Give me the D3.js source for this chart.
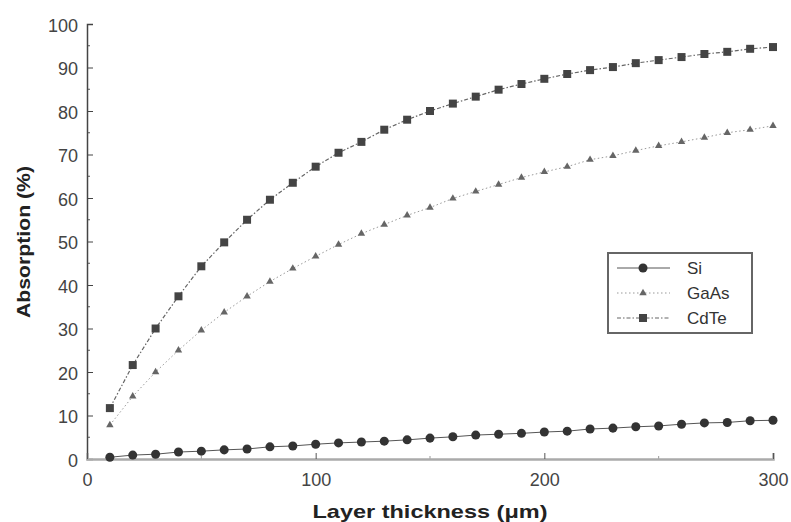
<!DOCTYPE html>
<html><head><meta charset="utf-8">
<script src="https://cdn.jsdelivr.net/npm/d3@7"></script>
<style>body{margin:0;background:#fff}svg{display:block}text{font-family:Arial,"Liberation Sans",sans-serif}</style>
</head><body>
<script>
const thickness = [10,20,30,40,50,60,70,80,90,100,110,120,130,140,150,160,170,180,190,200,210,220,230,240,250,260,270,280,290,300];
const si   = [0.4,0.9,1.1,1.6,1.8,2.1,2.3,2.8,3.0,3.4,3.7,3.9,4.1,4.4,4.8,5.1,5.5,5.7,5.9,6.2,6.4,6.9,7.1,7.4,7.6,8.0,8.3,8.4,8.8,8.9];
const gaas = [7.8,14.4,20.0,25.0,29.6,33.7,37.4,40.8,43.8,46.6,49.3,51.8,53.9,56.0,57.8,59.9,61.5,63.1,64.7,66.0,67.2,68.8,69.7,70.9,72.0,72.9,73.9,75.0,75.7,76.6];
const cdte = [11.7,21.6,30.0,37.4,44.3,49.8,55.0,59.6,63.5,67.2,70.4,72.9,75.7,78.0,80.0,81.7,83.3,84.9,86.2,87.4,88.5,89.4,90.1,91.0,91.7,92.4,93.1,93.6,94.3,94.7];
const seriesNames = ["Si","GaAs","CdTe"];
const xTicks = [0,100,200,300];
const yTicks = [0,10,20,30,40,50,60,70,80,90,100];

const W=791,H=522;
const FONT="Arial, 'Liberation Sans', sans-serif";
const svg=d3.select("body").append("svg").attr("width",W).attr("height",H);
const x=d3.scaleLinear().domain([0,300]).range([87,773]);
const y=d3.scaleLinear().domain([0,100]).range([459,24]);

// minor ticks
const g=svg.append("g");
g.selectAll(".ym").data(d3.range(5,100,10)).enter().append("line")
 .attr("x1",x(0)).attr("x2",x(0)+3).attr("y1",d=>y(d)).attr("y2",d=>y(d)).attr("stroke","#555").attr("stroke-width",1);
g.selectAll(".xm").data([50,150,250]).enter().append("line")
 .attr("x1",d=>x(d)).attr("x2",d=>x(d)).attr("y1",y(0)).attr("y2",y(0)-3).attr("stroke","#999").attr("stroke-width",1);

// y axis
const yAxis=d3.axisLeft(y).tickValues(yTicks).tickSize(-6).tickPadding(9).tickFormat(d3.format("d"));
const ya=svg.append("g").attr("transform",`translate(${x(0)},0)`).call(yAxis);
ya.select(".domain").attr("stroke","#444").attr("stroke-width",1.5);
ya.selectAll(".tick line").attr("stroke","#444");
ya.selectAll(".tick text").attr("font-size",18).attr("fill","#444").attr("font-family",FONT).attr("dy","0.4em");

// x axis
const xAxis=d3.axisBottom(x).tickValues(xTicks).tickSize(-6).tickPadding(14).tickFormat(d3.format("d"));
const xa=svg.append("g").attr("transform",`translate(0,${y(0)})`).call(xAxis);
xa.select(".domain").attr("stroke","#aaa").attr("stroke-width",2.5);
xa.selectAll(".tick line").attr("stroke","#555");
xa.selectAll(".tick text").attr("font-size",18).attr("fill","#444").attr("font-family",FONT);

// titles
svg.append("text").attr("x",430).attr("y",518).attr("text-anchor","middle").attr("font-size",19).attr("font-weight","bold").attr("fill","#222")
 .attr("textLength",235).attr("lengthAdjust","spacingAndGlyphs")
 .text("Layer thickness (μm)");
svg.append("text").attr("transform","translate(30,242) rotate(-90)").attr("text-anchor","middle").attr("font-size",19).attr("font-weight","bold").attr("fill","#222")
 .attr("textLength",152).attr("lengthAdjust","spacingAndGlyphs")
 .text("Absorption (%)");

const styles={
 Si:{data:si,stroke:"#555",dash:null,w:1,marker:"circle"},
 GaAs:{data:gaas,stroke:"#999",dash:"1.5,2.5",w:1,marker:"triangle"},
 CdTe:{data:cdte,stroke:"#666",dash:"4,2,1.5,2",w:1.2,marker:"square"}
};
const sym={circle:d3.symbol().type(d3.symbolCircle).size(64),
 triangle:d3.symbol().type(d3.symbolTriangle).size(24),
 square:d3.symbol().type(d3.symbolSquare).size(64)};
const mfill={circle:"#333",triangle:"#666",square:"#444"};
const line=d3.line().x((d,i)=>x(thickness[i])).y(d=>y(d));

seriesNames.forEach(n=>{
 const s=styles[n];
 svg.append("path").datum(s.data).attr("d",line).attr("fill","none").attr("stroke",s.stroke).attr("stroke-width",s.w).attr("stroke-dasharray",s.dash);
 svg.append("g").selectAll("path").data(s.data).enter().append("path")
  .attr("d",sym[s.marker]).attr("transform",(d,i)=>`translate(${x(thickness[i])},${y(d)})`).attr("fill",mfill[s.marker]);
});

// legend
const lg=svg.append("g");
lg.append("rect").attr("x",608).attr("y",253).attr("width",144).attr("height",80).attr("fill","#fff").attr("stroke","#666").attr("stroke-width",2);
seriesNames.forEach((n,i)=>{
 const s=styles[n]; const ly=268+i*25;
 lg.append("line").attr("x1",617).attr("x2",670).attr("y1",ly).attr("y2",ly).attr("stroke",s.stroke).attr("stroke-width",s.w).attr("stroke-dasharray",s.dash);
 lg.append("path").attr("d",sym[s.marker]).attr("transform",`translate(643,${ly})`).attr("fill",mfill[s.marker]);
 lg.append("text").attr("x",687).attr("y",ly+6).attr("font-size",17).attr("fill","#333").text(n);
});
</script>
</body></html>
